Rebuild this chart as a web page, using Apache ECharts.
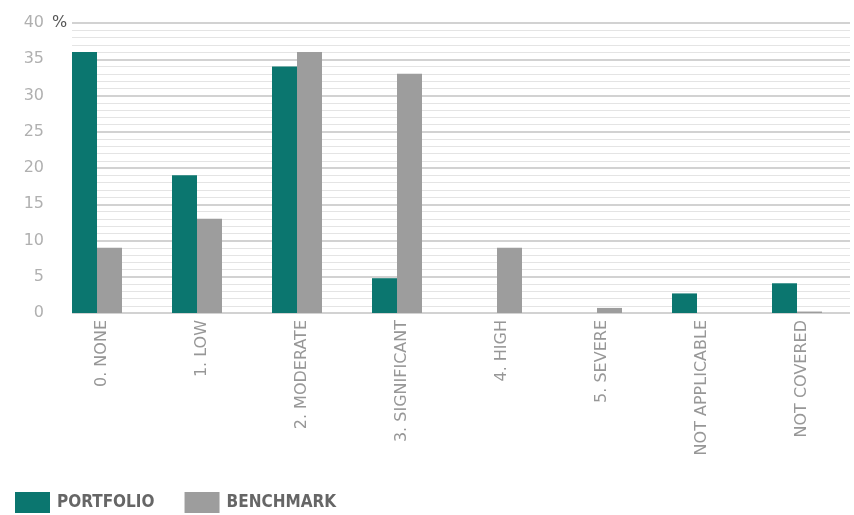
<!DOCTYPE html>
<html>
<head>
<meta charset="utf-8">
<script src="https://cdn.jsdelivr.net/npm/echarts@6/dist/echarts.min.js"></script>
<style>
  html, body { margin: 0; padding: 0; background: #fff; }
  #chart { width: 854px; height: 515px; }
</style>
</head>
<body>
<div id="chart"></div>
<script>
// Risk exposure categories
var categories = ['0. NONE', '1. LOW', '2. MODERATE', '3. SIGNIFICANT', '4. HIGH', '5. SEVERE', 'NOT APPLICABLE', 'NOT COVERED'];
// Share of holdings, in percent
var portfolio = [36, 19, 34, 4.8, 0, 0, 2.7, 4.1];
var benchmark = [9, 13, 36, 33, 9, 0.7, 0, 0.2];
var yTicks = [0, 5, 10, 15, 20, 25, 30, 35, 40];

var TEAL = '#0b766f';
var GREY = '#9d9d9d';
var yMin = yTicks[0], yMax = yTicks[yTicks.length - 1], yStep = yTicks[1] - yTicks[0];

var chart = echarts.init(document.getElementById('chart'), null, { renderer: 'canvas' });

chart.setOption({
  animation: false,
  backgroundColor: '#ffffff',
  grid: [
    // grid 0: ruled background with the value labels
    { left: 72, right: 4, top: 23, height: 290 },
    // grid 1: the bar groups
    { left: 47, width: 800, top: 23, height: 290 }
  ],
  xAxis: [
    { gridIndex: 0, type: 'value', show: false, min: 0, max: 1 },
    {
      gridIndex: 1, type: 'category', data: categories,
      axisLine: { show: false }, axisTick: { show: false },
      axisLabel: {
        rotate: 90, margin: 7, interval: 0,
        verticalAlign: 'top', lineHeight: 10,
        fontFamily: 'DejaVu Sans', fontSize: 16, color: '#979797'
      }
    }
  ],
  yAxis: [
    {
      gridIndex: 0, type: 'value', min: yMin, max: yMax, interval: yStep,
      axisLine: { show: false }, axisTick: { show: false },
      axisLabel: { margin: 28, fontFamily: 'DejaVu Sans', fontSize: 16, color: '#b0b0b0' },
      splitLine: { lineStyle: { color: '#c3c3c3', width: 1.5 } },
      minorTick: { show: false, splitNumber: 5 },
      minorSplitLine: { show: true, lineStyle: { color: '#e4e4e4', width: 1 } }
    },
    { gridIndex: 1, type: 'value', min: yMin, max: yMax, show: false }
  ],
  legend: {
    left: 15, top: 492, padding: 0, icon: 'rect', itemWidth: 35, itemHeight: 21, itemGap: 30,
    data: ['PORTFOLIO', 'BENCHMARK'],
    textStyle: { fontFamily: 'DejaVu Sans Condensed', fontWeight: 'bold', fontSize: 17, color: '#666666', padding: [0, 0, 0, 2] }
  },
  graphic: [
    { type: 'text', left: 52, top: 15, style: { text: '%', font: '16px "DejaVu Sans"', fill: '#555555' } }
  ],
  series: [
    {
      name: 'PORTFOLIO', type: 'bar', xAxisIndex: 1, yAxisIndex: 1,
      data: portfolio, barWidth: 25, barGap: '0%',
      itemStyle: { color: TEAL }
    },
    {
      name: 'BENCHMARK', type: 'bar', xAxisIndex: 1, yAxisIndex: 1,
      data: benchmark, barWidth: 25, barGap: '0%',
      itemStyle: { color: GREY }
    }
  ]
});
</script>
</body>
</html>
